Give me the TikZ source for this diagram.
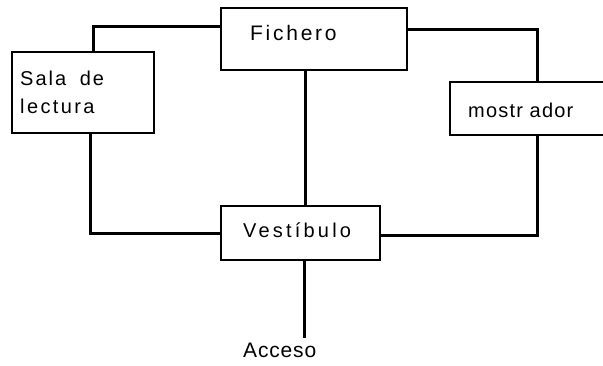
\documentclass[tikz,border=0pt]{standalone}
\usepackage{fontspec}
\setmainfont{Liberation Sans}
\newcommand{\ls}[2]{\fontsize{#1}{#1}\selectfont\addfontfeatures{LetterSpace=#2}}
\begin{document}
\begin{tikzpicture}[x=1pt,y=-1pt,
  box/.style={draw,line width=1.4pt,inner sep=0pt},
  lbl/.style={inner sep=0pt,anchor=base west},
  conn/.style={line width=3pt}]
\useasboundingbox (0,0) rectangle (603,365);
\clip (0,0) rectangle (603,365);
% boxes
\node[box,minimum width=186pt,minimum height=62pt] (fich) at (314,39) {};
\node[box,minimum width=142pt,minimum height=81pt] (sala) at (83,92.5) {};
\node[box,minimum width=170pt,minimum height=53pt] (most) at (535,108.5) {};
\node[box,minimum width=159pt,minimum height=54pt] (vest) at (300.5,233) {};
% labels
\node[lbl,font=\ls{21}{13}] (tfich) at (250,40) {Fichero};
\node[lbl,font=\ls{20}{10}] (tsala1) at (20,85) {Sala\hspace{6pt} de};
\node[lbl,font=\ls{20}{12}] (tsala2) at (20,113) {lectura};
\node[lbl,font=\ls{20}{6}] (tmost) at (468,117) {mostr ador};
\node[lbl,font=\ls{20}{16}] (tvest) at (243,237) {Vestíbulo};
\node[lbl,font=\ls{21}{4}] (tacc) at (243,357) {Acceso};
% connectors
\coordinate (accend) at (304,338);
\draw[conn] ([xshift=10pt]sala.north) |- ([yshift=13pt]fich.west);
\draw[conn] ([yshift=10pt]fich.east) -| ([xshift=2pt]most.north);
\draw[conn] ([xshift=-9pt]fich.south) -- ([xshift=-9pt]fich.south |- vest.north);
\draw[conn] ([xshift=7pt]sala.south) |- (vest.west);
\draw[conn] ([xshift=2pt]most.south) |- ([yshift=-2pt]vest.east);
\draw[conn] (vest.south -| accend) -- (accend);
\end{tikzpicture}
\end{document}
